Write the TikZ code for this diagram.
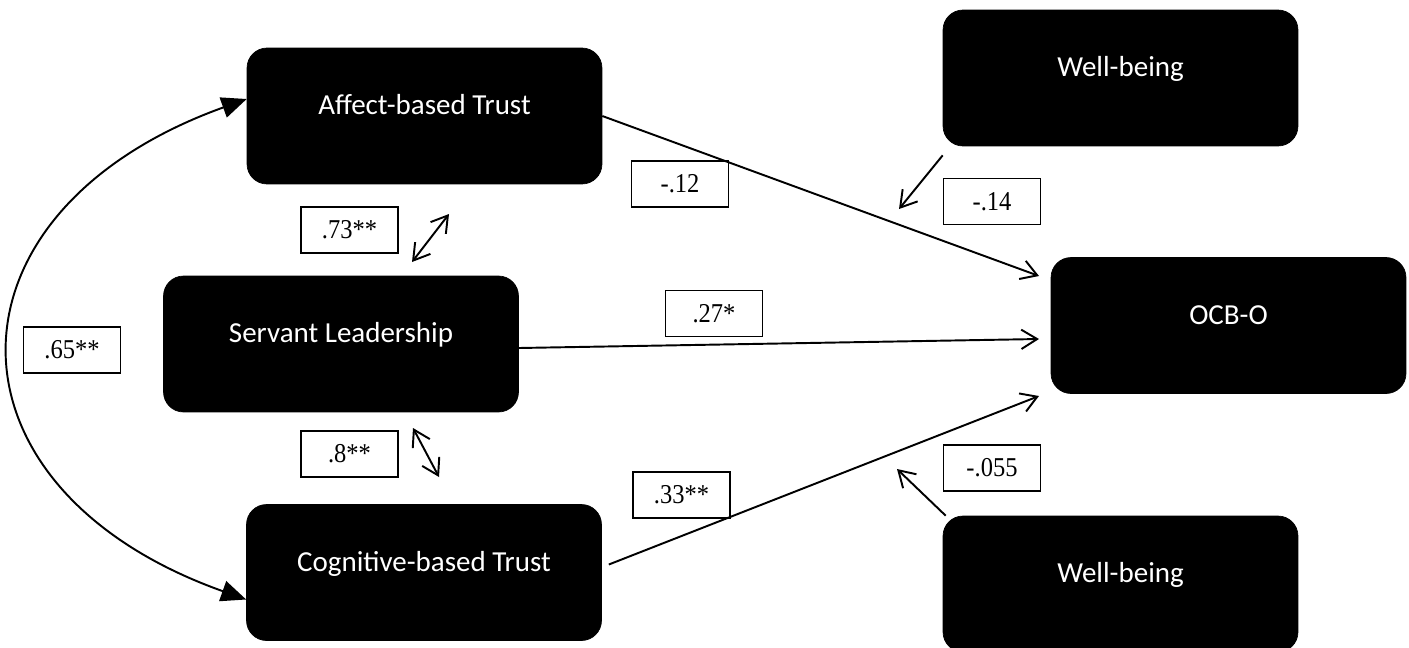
\documentclass[tikz,border=0pt]{standalone}
\usepackage{fontspec}
\setmainfont{Liberation Serif}
\newfontfamily\boxfont{Carlito}
\newfontfamily\valfont[FakeStretch=0.9]{Liberation Serif}
\usepackage{tikz}
\usetikzlibrary{arrows.meta}

\begin{document}
\begin{tikzpicture}[x=0.02cm, y=-0.02cm,
    box/.style={rectangle, rounded corners=0.4cm, draw=black, fill=black,
                minimum width=7.1cm, minimum height=2.72cm,
                text=white, font=\boxfont\fontsize{16.5}{20}\selectfont,
                text height=0.4cm, text depth=0.46cm},
    val/.style={rectangle, draw=black, line width=0.8pt, fill=white,
                minimum width=1.94cm, minimum height=0.92cm, inner sep=0pt,
                font=\valfont\fontsize{15.5}{18}\selectfont},
    arr/.style={-{Straight Barb[length=9pt, width=11pt]}, line width=1.1pt},
    biarr/.style={{Straight Barb[length=9pt, width=11pt]}-{Straight Barb[length=9pt, width=11pt]}, line width=1.1pt},
    corr/.style={{Triangle[length=0.5cm, width=0.42cm]}-{Triangle[length=0.5cm, width=0.42cm]}, line width=1.1pt}]

    \useasboundingbox (0,0) rectangle (1409,647);

    \node[box] (aff) at (424.5,116) {Affect-based Trust};
    \node[box] (sl)  at (341,344)   {Servant Leadership};
    \node[box] (cog) at (424,572.5) {Cognitive-based Trust};
    \node[box] (wb1) at (1120.5,78) {Well-being};
    \node[box] (ocb) at (1228.5,325.5) {OCB-O};
    \node[box] (wb2) at (1120.5,584) {Well-being};

    \node[val] (v73)  at (349.5,230) {.73**};
    \node[val] (v65)  at (72,350)    {.65**};
    \node[val] (v8)   at (349.5,454) {.8**};
    \node[val] (v12)  at (680,184)   {-.12};
    \node[val] (v14)  at (992,201.5) {-.14};
    \node[val] (v27)  at (714,313.5) {.27*};
    \node[val] (v33)  at (681.5,495) {.33**};
    \node[val] (v055) at (992,468)   {-.055};

    \coordinate (slA)  at (412,262);  \coordinate (affS) at (449,214);
    \coordinate (slC)  at (413,428);  \coordinate (cogN) at (439,477);
    \coordinate (ocbA) at (1039,276);
    \coordinate (ocbS) at (1039,339);
    \coordinate (ocbC) at (1039,396);
    \coordinate (modT) at (899,209);
    \coordinate (modB) at (897,469);

    \draw[corr] ([yshift=0.34cm]aff.west) .. controls (-67,212) and (-67,488) .. ([yshift=-0.54cm]cog.west);
    \draw[biarr] (slA) -- (affS);
    \draw[biarr] (slC) -- (cogN);

    \draw[arr] (aff.east) -- (ocbA);
    \draw[arr] ([yshift=-0.08cm]sl.east) -- (ocbS);
    \draw[arr] ([shift={(7,-8)}]cog.east) -- (ocbC);
    \draw[arr] ([yshift=-0.18cm]wb1.south west) -- (modT);
    \draw[arr] ([xshift=0.06cm]wb2.north west) -- (modB);
\end{tikzpicture}
\end{document}
